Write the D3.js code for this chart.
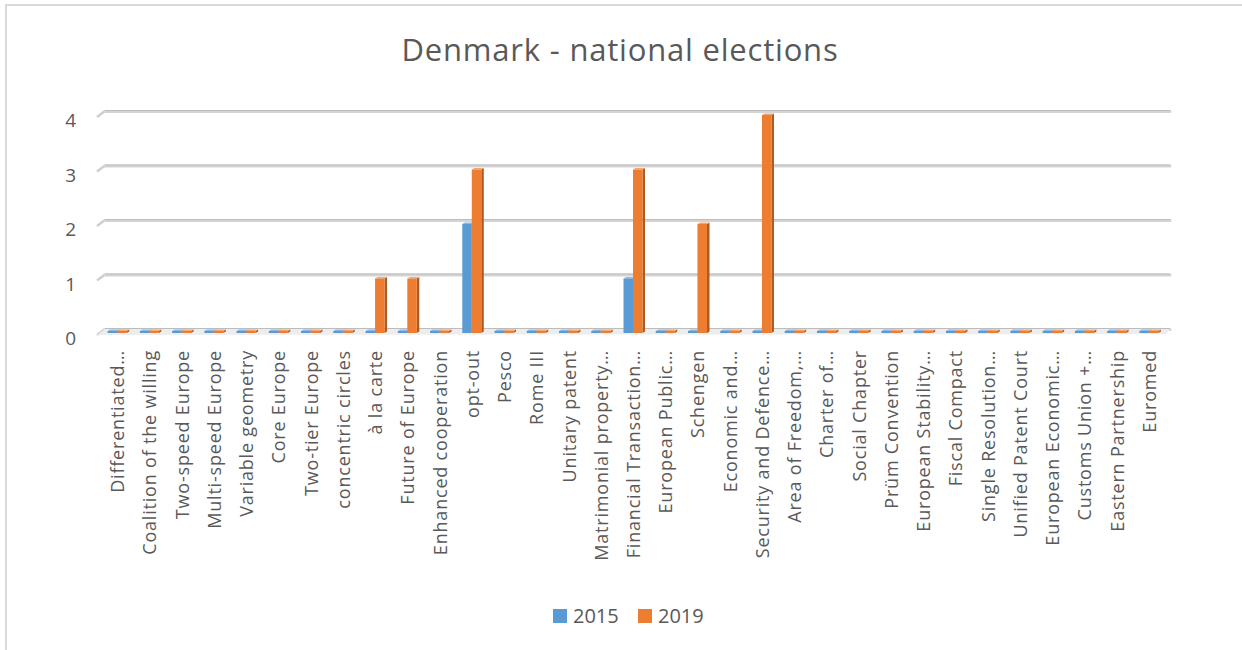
<!DOCTYPE html>
<html>
<head>
<meta charset="utf-8">
<script src="https://cdn.jsdelivr.net/npm/d3@7"></script>
<style>
  html, body { margin: 0; padding: 0; background: #fff; }
  svg { display: block; }
</style>
</head>
<body>
<svg id="chart" width="1242" height="650"></svg>
<script>
// Terms counted in Danish national election programmes
const categories = [
  "Differentiated…", "Coalition of the willing", "Two-speed Europe", "Multi-speed Europe",
  "Variable geometry", "Core Europe", "Two-tier Europe", "concentric circles",
  "à la carte", "Future of Europe", "Enhanced cooperation", "opt-out", "Pesco",
  "Rome III", "Unitary patent", "Matrimonial property…", "Financial Transaction…",
  "European Public…", "Schengen", "Economic and…", "Security and Defence…",
  "Area of Freedom,…", "Charter of…", "Social Chapter", "Prüm Convention",
  "European Stability…", "Fiscal Compact", "Single Resolution…", "Unified Patent Court",
  "European Economic…", "Customs Union +…", "Eastern Partnership", "Euromed"
];
const values2015 = [0,0,0,0,0,0,0,0,0,0,0,2,0,0,0,0,1,0,0,0,0,0,0,0,0,0,0,0,0,0,0,0,0];
const values2019 = [0,0,0,0,0,0,0,0,1,1,0,3,0,0,0,0,3,0,2,0,4,0,0,0,0,0,0,0,0,0,0,0,0];
const seriesNames = ["2015", "2019"];
const yTicks = [0, 1, 2, 3, 4];

const colors = { "2015": "#5B9BD5", "2019": "#ED7D31" };
const sideColors = { "2015": "#41719C", "2019": "#AE5A21" };
const topColors = { "2015": "#8DB8E3", "2019": "#F4A672" };

const svg = d3.select("#chart");
const font = "'Open Sans', 'Noto Sans', sans-serif";
const textColor = "#595959";

// chart area border
svg.append("path")
  .attr("d", "M6,650 L6,5 L1242,5")
  .attr("fill", "none").attr("stroke", "#D9D9D9").attr("stroke-width", 2);

// title
svg.append("text")
  .attr("x", 620).attr("y", 61)
  .attr("text-anchor", "middle")
  .attr("font-family", font).attr("font-size", 31)
  .attr("letter-spacing", 0.8)
  .attr("fill", textColor)
  .text("Denmark - national elections");

const x0 = d3.scaleBand().domain(categories).range([101, 1165]);
const bw = x0.bandwidth();
const x1 = d3.scaleBand().domain(seriesNames).range([bw / 2 - 9.5, bw / 2 + 9.5]);
const y = d3.scaleLinear().domain([0, 4]).range([333, 115]);

const depthX = 8, depthY = -4;
const wallLeft = 105, wallRight = 1170;

// back wall gridlines with their slanted side-wall segment
const grid = svg.append("g");
yTicks.forEach(t => {
  const gy = y(t) + depthY;
  grid.append("line")
    .attr("x1", wallLeft - depthX).attr("y1", gy + 6)
    .attr("x2", wallLeft).attr("y2", gy)
    .attr("stroke", "#CFCFCF").attr("stroke-width", 2.5);
  grid.append("line")
    .attr("x1", wallLeft).attr("y1", gy + 0.5)
    .attr("x2", wallRight).attr("y2", gy + 0.5)
    .attr("stroke", "#D4D4D4").attr("stroke-width", 3)
    .attr("stroke-linecap", "round");
  grid.append("line")
    .attr("x1", wallLeft).attr("y1", gy - 0.5)
    .attr("x2", wallRight).attr("y2", gy - 0.5)
    .attr("stroke", "#BCBCBC").attr("stroke-width", 1);
});

// floor band
svg.append("path")
  .attr("d", `M${wallLeft - depthX},${y(0) + 2} L${wallLeft},${y(0) + depthY} L${wallRight},${y(0) + depthY} L${wallRight - 4},${y(0) + 1} Z`)
  .attr("fill", "#EDEDED");

// y axis labels
svg.append("g").selectAll("text").data(yTicks).join("text")
  .attr("x", 76).attr("y", d => y(d) + 12)
  .attr("text-anchor", "end")
  .attr("font-family", font).attr("font-size", 19)
  .attr("fill", textColor)
  .text(d => d);

// 3D columns
const rows = categories.map((c, i) => ({ c, v: { "2015": values2015[i], "2019": values2019[i] } }));
const barW = x1.bandwidth();
const side = 2.5;
const bars = svg.append("g");
rows.forEach(r => {
  seriesNames.forEach(s => {
    const v = r.v[s];
    const bx = x0(r.c) + x1(s);
    const top = v > 0 ? y(v) : y(0) - 2;
    const bottom = y(0);
    // side face
    bars.append("path")
      .attr("d", `M${bx + barW},${top} L${bx + barW + side},${top - 1.5} L${bx + barW + side},${bottom - 1.5} L${bx + barW},${bottom} Z`)
      .attr("fill", sideColors[s]);
    // top face
    bars.append("path")
      .attr("d", `M${bx},${top} L${bx + side},${top - 1.5} L${bx + barW + side},${top - 1.5} L${bx + barW},${top} Z`)
      .attr("fill", topColors[s]);
    // front face
    bars.append("rect")
      .attr("x", bx).attr("y", top)
      .attr("width", barW).attr("height", bottom - top)
      .attr("fill", colors[s]);
  });
});

// category labels
svg.append("g").selectAll("text").data(categories).join("text")
  .attr("transform", d => `translate(${x0(d) + bw / 2 + 7},350) rotate(-90)`)
  .attr("text-anchor", "end")
  .attr("font-family", font).attr("font-size", 18)
  .attr("letter-spacing", 0.8)
  .attr("fill", textColor)
  .text(d => d);

// legend
const legend = svg.append("g");
const legendItems = [{ s: "2015", x: 553 }, { s: "2019", x: 638 }];
legendItems.forEach(it => {
  legend.append("rect")
    .attr("x", it.x).attr("y", 609).attr("width", 14).attr("height", 14)
    .attr("fill", colors[it.s]);
  legend.append("text")
    .attr("x", it.x + 20).attr("y", 623)
    .attr("font-family", font).attr("font-size", 20)
    .attr("fill", textColor)
    .text(it.s);
});
</script>
</body>
</html>
